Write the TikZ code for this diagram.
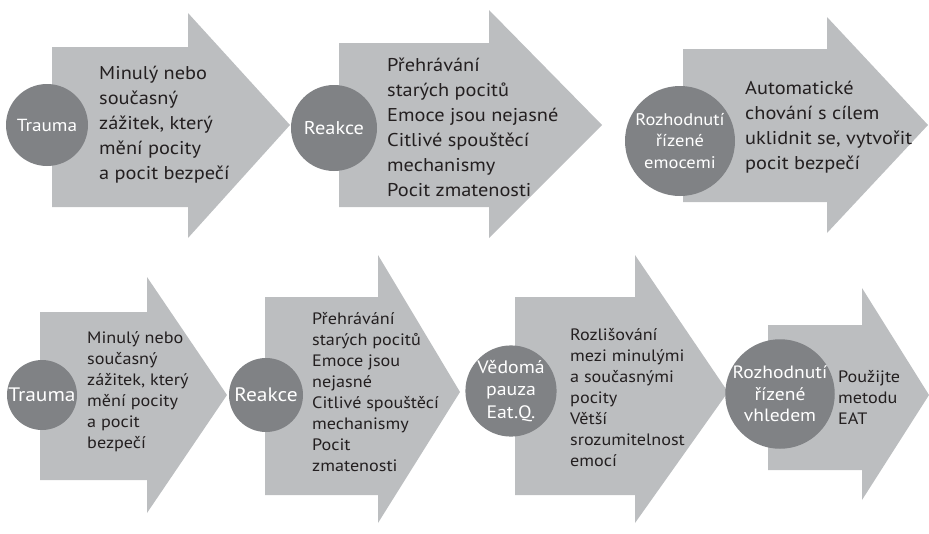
\documentclass[tikz,border=0pt]{standalone}
\usepackage{fontspec}
\setmainfont{PT Sans}[FakeStretch=1.1]
\usetikzlibrary{positioning}
\definecolor{arrowgray}{RGB}{188,190,192}
\definecolor{hubgray}{RGB}{128,130,133}
\definecolor{inkgray}{RGB}{35,31,32}
\tikzset{
  shaft/.style={fill=arrowgray,draw=none},
  hub/.style={circle,fill=hubgray,text=white,inner sep=0pt,align=center},
  desc/.style={anchor=west,align=left,text=inkgray,inner sep=0pt},
  bigtxt/.style={font=\fontsize{18.5}{25}\selectfont},
  smalltxt/.style={font=\fontsize{16.5}{21}\selectfont}
}

\begin{document}
\begin{tikzpicture}[x=1pt,y=-1pt]
\useasboundingbox (0,0) rectangle (929,533);
% top row arrows
\fill[shaft] (52,47) -- (188,47) -- (188,13) -- (290,125) -- (188,238) -- (188,207) -- (52,207) -- cycle;
\fill[shaft] (339,43) -- (489,43) -- (489,10) -- (602,125) -- (489,238) -- (489,207) -- (339,207) -- cycle;
\fill[shaft] (683,49) -- (827,49) -- (827,17) -- (928,125) -- (827,233) -- (827,202) -- (683,202) -- cycle;
% bottom row arrows
\fill[shaft] (40,312) -- (147,312) -- (147,277) -- (227,395) -- (147,513) -- (147,480) -- (40,480) -- cycle;
\fill[shaft] (265,297) -- (378,297) -- (378,255) -- (460,392) -- (378,523) -- (378,495) -- (265,495) -- cycle;
\fill[shaft] (515,297) -- (635,297) -- (635,255) -- (728,392) -- (635,523) -- (635,495) -- (515,495) -- cycle;
\fill[shaft] (768,325) -- (862,325) -- (862,288) -- (929,395) -- (862,500) -- (862,470) -- (768,470) -- cycle;

% top row
\node[hub,minimum size=82pt,font=\fontsize{17.5}{21}\selectfont] (trauma) at (47,125) {Trauma};
\node[desc,bigtxt] (traumaTxt) at (99,125) {Minulý nebo\\současný\\zážitek, který\\mění pocity\\a pocit bezpečí};
\node[hub,minimum size=86pt,font=\fontsize{18.5}{21}\selectfont] (reakce) at (334,128) {Reakce};
\node[desc,bigtxt] (reakceTxt) at (387,127) {Přehrávání\\starých pocitů\\Emoce jsou nejasné\\Citlivé spouštěcí\\mechanismy\\Pocit zmatenosti};
\node[hub,minimum size=110pt,font=\fontsize{16.8}{21.5}\selectfont] (emoce) at (680,141) {Rozhodnutí\\řízené\\emocemi};
\node[desc,bigtxt] (emoceTxt) at (745,127) {Automatické\\chování s cílem\\uklidnit se, vytvořit\\pocit bezpečí};

% bottom row
\node[hub,minimum size=70pt,font=\fontsize{19.5}{22}\selectfont] (trauma2) at (42,395) {Trauma};
\node[desc,smalltxt] (trauma2Txt) at (87,392) {Minulý nebo\\současný\\zážitek, který\\mění pocity\\a pocit\\bezpečí};
\node[hub,minimum size=74pt,font=\fontsize{19.5}{22}\selectfont] (reakce2) at (266,395) {Reakce};
\node[desc,smalltxt] (reakce2Txt) at (312,392) {Přehrávání\\starých pocitů\\Emoce jsou\\nejasné\\Citlivé spouštěcí\\mechanismy\\Pocit\\zmatenosti};
\node[hub,minimum size=82pt,font=\fontsize{18}{22.5}\selectfont] (pauza) at (511,391) {Vědomá\\pauza\\Eat.Q.};
\node[desc,smalltxt] (pauzaTxt) at (570,398) {Rozlišování\\mezi minulými\\a současnými\\pocity\\Větší\\srozumitelnost\\emocí};
\node[hub,minimum size=96pt,font=\fontsize{17.8}{21.5}\selectfont] (vhled) at (780,394) {Rozhodnutí\\řízené\\vhledem};
\node[desc,smalltxt] (vhledTxt) at (838,397) {Použijte\\metodu\\EAT};
\end{tikzpicture}
\end{document}
